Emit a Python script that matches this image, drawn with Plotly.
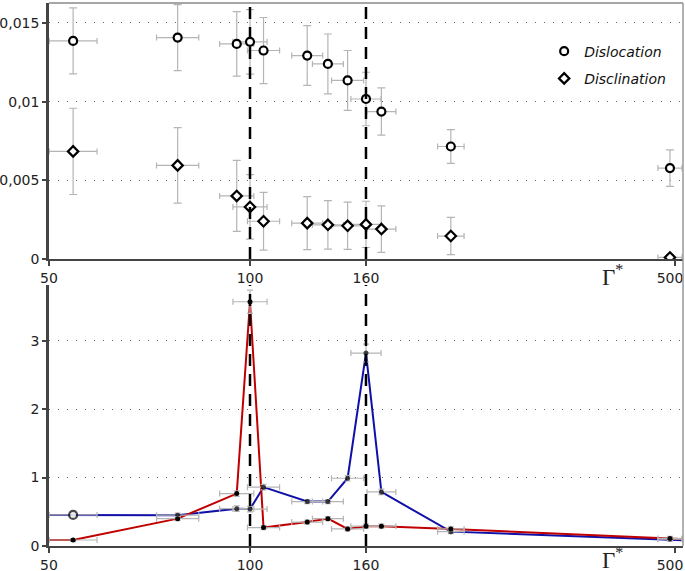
import numpy as np
import plotly.graph_objects as go

# ---------------- data ----------------
gamma = [56, 82, 96.7, 100, 107, 129.6, 140.3, 150.5, 160, 177, 253.5, 495]
# half width of the horizontal error bars, in axis units
gamma_err = [0.119, 0.105, 0.085, 0.085, 0.080, 0.077, 0.077, 0.080, 0.075, 0.072, 0.066, 0.060]

dislocation = [0.01386, 0.01407, 0.01367, 0.0138, 0.01325, 0.01293, 0.0124, 0.01135, 0.01017, 0.00937, 0.00715, 0.00578]
dislocation_err = [0.0021, 0.0021, 0.00205, 0.00205, 0.0021, 0.0019, 0.0019, 0.0019, 0.0017, 0.0015, 0.00107, 0.00116]
disclination = [0.00684, 0.00595, 0.00401, 0.00331, 0.0024, 0.00228, 0.00217, 0.00211, 0.0022, 0.0019, 0.00146, 0.0001]
disclination_err = [0.00274, 0.0024, 0.00226, 0.00205, 0.00184, 0.00168, 0.00154, 0.0015, 0.00147, 0.00148, 0.00118, 0.00017]

blue_vals = [0.454, 0.45, 0.546, 0.54, 0.86, 0.65, 0.65, 0.99, 2.82, 0.79, 0.21, 0.10]
blue_err = [0.03, 0.03, 0.04, 0.04, 0.04, 0.03, 0.03, 0.04, 0.13, 0.04, 0.03, 0.03]
red_vals = [0.088, 0.40, 0.766, 3.57, 0.27, 0.35, 0.40, 0.25, 0.29, 0.29, 0.25, 0.11]
red_err = [0.02, 0.03, 0.04, 0.17, 0.03, 0.03, 0.03, 0.03, 0.03, 0.03, 0.03, 0.03]
# line continuation to the plot edges
line_gamma_ends = [50, 509]
blue_ends = [0.454, 0.085]
red_ends = [0.088, 0.10]

x_ticks = [50, 100, 160, 500]
x_tick_labels = ["50", "100", "160", "500\u00a0\u00a0"]
marked_gamma = [100, 160]
series_names = ["Dislocation", "Disclination"]

# ---------------- nonlinear Γ* scale ----------------
G_KNOTS = [50, 100, 160, 500]
U_KNOTS = [0, 1.0, 1.577, 3.112]
SLOPE_END = (U_KNOTS[-1] - U_KNOTS[-2]) / (G_KNOTS[-1] - G_KNOTS[-2])


def gx(g):
    g = np.asarray(g, dtype=float)
    inner = np.interp(g, G_KNOTS, U_KNOTS)
    return np.where(g <= G_KNOTS[-1], inner, U_KNOTS[-1] + (g - G_KNOTS[-1]) * SLOPE_END)


xs = gx(gamma)
xrange_ = [0, 634 / 201]

ERR_COL = "#b5b5b5"
AX_COL = "#444444"
FONT = "DejaVu Sans"

fig = go.Figure()

# ---------- top panel ----------
ex = dict(type="data", array=gamma_err, color=ERR_COL, thickness=1.2, width=3)
fig.add_trace(go.Scatter(
    x=xs, y=dislocation, mode="markers", showlegend=False, xaxis="x", yaxis="y",
    error_x=ex,
    error_y=dict(type="data", array=dislocation_err, color=ERR_COL, thickness=1.2, width=4),
    marker=dict(symbol="circle", size=8, color="white", line=dict(color="black", width=2.2)),
))
fig.add_trace(go.Scatter(
    x=xs, y=disclination, mode="markers", showlegend=False, xaxis="x", yaxis="y",
    error_x=ex,
    error_y=dict(type="data", array=disclination_err, color=ERR_COL, thickness=1.2, width=4),
    marker=dict(symbol="diamond", size=8, color="white", line=dict(color="black", width=2.2)),
))
# legend entries
fig.add_trace(go.Scatter(x=[None], y=[None], mode="markers", name=series_names[0], legendgroup="a",
                         marker=dict(symbol="circle", size=8, color="white", line=dict(color="black", width=2.2))))
fig.add_trace(go.Scatter(x=[None], y=[None], mode="markers", name=series_names[1], legendgroup="b",
                         marker=dict(symbol="diamond", size=8, color="white", line=dict(color="black", width=2.2))))

# ---------- bottom panel ----------
line_x = np.concatenate([gx([line_gamma_ends[0]]), xs, gx([line_gamma_ends[1]])])
fig.add_trace(go.Scatter(x=line_x, y=[blue_ends[0]] + blue_vals + [blue_ends[1]], mode="lines",
                         line=dict(color="#1010a8", width=2), showlegend=False, xaxis="x2", yaxis="y2"))
fig.add_trace(go.Scatter(x=line_x, y=[red_ends[0]] + red_vals + [red_ends[1]], mode="lines",
                         line=dict(color="#c00000", width=2), showlegend=False, xaxis="x2", yaxis="y2"))

ex2 = dict(type="data", array=gamma_err, color=ERR_COL, thickness=1.2, width=3)
fig.add_trace(go.Scatter(
    x=xs, y=blue_vals, mode="markers", showlegend=False, xaxis="x2", yaxis="y2",
    error_x=ex2, error_y=dict(type="data", array=blue_err, color=ERR_COL, thickness=1.2, width=3),
    marker=dict(symbol="circle", size=[8] + [5] * 11,
                color=["white"] + ["black"] * 11, line=dict(color="black", width=[2.2] + [0] * 11)),
))
fig.add_trace(go.Scatter(
    x=xs, y=red_vals, mode="markers", showlegend=False, xaxis="x2", yaxis="y2",
    error_x=ex2, error_y=dict(type="data", array=red_err, color=ERR_COL, thickness=1.2, width=3),
    marker=dict(symbol="circle", size=5, color="black"),
))

# ---------- axes ----------
tickfont = dict(family=FONT, size=14, color="#222222")
xcommon = dict(range=xrange_, tickmode="array", tickvals=gx(x_ticks), ticktext=x_tick_labels,
               showline=True, linecolor=AX_COL, linewidth=2, ticks="outside", ticklen=5, tickwidth=2,
               tickcolor=AX_COL, showgrid=False, zeroline=False, tickfont=tickfont,
               automargin=False, ticklabeloverflow="allow")
ycommon = dict(showline=True, linecolor=AX_COL, linewidth=2.5, ticks="outside", ticklen=4, tickwidth=2,
               tickcolor=AX_COL, showgrid=True, gridcolor="#666666", gridwidth=1, griddash="1px,8px",
               zeroline=False, tickfont=tickfont, automargin=False, ticklabeloverflow="allow")

top_dom = [(546 - 259) / 543, 1]
bot_dom = [0, (546 - 285) / 543]

fig.update_layout(
    width=685, height=571,
    margin=dict(l=49, r=2, t=3, b=25, autoexpand=False),
    paper_bgcolor="white", plot_bgcolor="white",
    separators=",.",
    xaxis=dict(anchor="y", **xcommon),
    yaxis=dict(domain=top_dom, anchor="x", range=[0, 0.01627], tickvals=[0, 0.005, 0.01, 0.015], **ycommon),
    xaxis2=dict(anchor="y2", **xcommon),
    yaxis2=dict(domain=bot_dom, anchor="x2", range=[0, 3.815], tickvals=[0, 1, 2, 3], **ycommon),
    legend=dict(x=0.781, y=0.94, xanchor="left", yanchor="top", bgcolor="rgba(0,0,0,0)",
                font=dict(family=FONT, size=14, color="#111111", style="italic"),
                itemwidth=30, tracegroupgap=6),
    showlegend=True,
)

shapes = []
for g in marked_gamma:
    for xr, yr in [("x", "y domain"), ("x2", "y2 domain")]:
        xv = float(gx([g])[0])
        shapes.append(dict(type="line", xref=xr, yref=yr, x0=xv, x1=xv, y0=0, y1=1,
                           line=dict(color="black", width=2.5, dash="12px,8px")))
# frame lines
shapes.append(dict(type="line", xref="paper", yref="paper", x0=0, x1=1, y0=1, y1=1,
                   line=dict(color="#888888", width=1.5)))
shapes.append(dict(type="line", xref="paper", yref="paper", x0=1, x1=1, y0=0, y1=1,
                   line=dict(color="#999999", width=1.5)))
fig.update_layout(shapes=shapes)

gam_font = dict(family="Liberation Serif", size=23, color="#222222")
fig.add_annotation(x=(600 - 49) / 634, y=(546 - 276) / 543, xref="paper", yref="paper",
                   text="Γ<sup>*</sup>", showarrow=False, xanchor="left", yanchor="middle", font=gam_font)
fig.add_annotation(x=(600 - 49) / 634, y=(546 - 558) / 543, xref="paper", yref="paper",
                   text="Γ<sup>*</sup>", showarrow=False, xanchor="left", yanchor="middle", font=gam_font)

fig.write_html("out.html", config={"displayModeBar": False},
               post_script="document.body.style.margin='0px';document.body.style.overflow='hidden';")
